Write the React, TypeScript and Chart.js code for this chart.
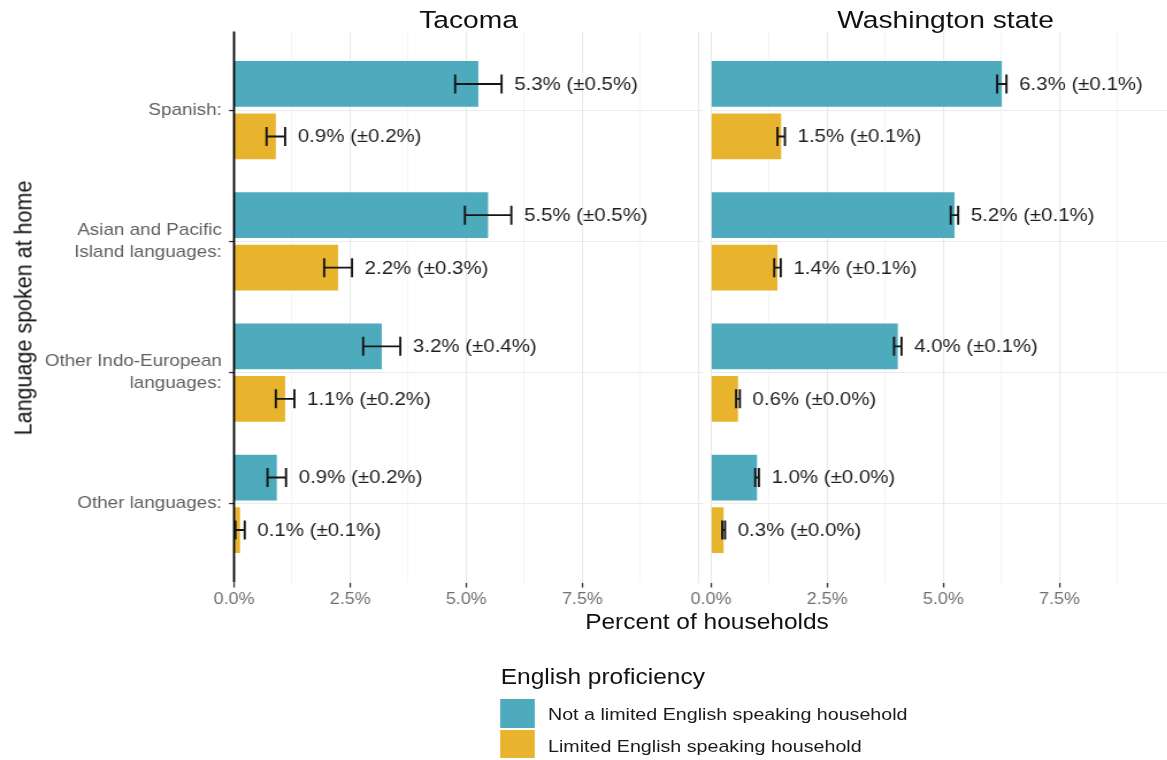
import React, { useEffect, useRef } from "react";
import { Chart, registerables } from "chart.js";

Chart.register(...registerables);

// ---------------- data ----------------
const categories: string[][] = [
  ["Spanish:"],
  ["Asian and Pacific", "Island languages:"],
  ["Other Indo-European", "languages:"],
  ["Other languages:"],
];
const seriesNames = [
  "Not a limited English speaking household",
  "Limited English speaking household",
];
const panelTitles = ["Tacoma", "Washington state"];

const tacomaNotLimited = [5.26, 5.47, 3.18, 0.92];
const tacomaNotLimitedErr = [0.5, 0.5, 0.4, 0.2];
const tacomaLimited = [0.9, 2.24, 1.1, 0.13];
const tacomaLimitedErr = [0.2, 0.3, 0.2, 0.1];

const waNotLimited = [6.26, 5.24, 4.02, 0.99];
const waNotLimitedErr = [0.1, 0.08, 0.08, 0.04];
const waLimited = [1.51, 1.43, 0.58, 0.27];
const waLimitedErr = [0.08, 0.07, 0.04, 0.03];

const xGridValues = [0, 1.25, 2.5, 3.75, 5, 6.25, 7.5, 8.75, 10];
const xLabelValues = [0, 2.5, 5, 7.5];

const yAxisTitle = "Language spoken at home";
const xAxisTitle = "Percent of households";
const legendTitle = "English proficiency";

const colors = ["#4eaabd", "#e9b42d"];

// ---------------- layout (internal coords, stretched by S) ----------------
const S = 1.15;
const FONT = '"Liberation Sans", Arial, Helvetica, sans-serif';
const CANVAS_H = 615;
const PANEL_TOP = 31.5;
const PANEL_BOTTOM = 582.5;
const LEFT_W = 612;
const LEFT_AXIS_W = 203.5;
const LEFT_PANEL_RIGHT = 611.3;
const RIGHT_CANVAS_LEFT = 588;
const RIGHT_W = 427;
const RIGHT_AXIS_W = 30.3;
const PX_PER_UNIT = 40.39;

const isMajor = (v: number) =>
  xLabelValues.some((m) => Math.abs(m - v) < 1e-6) || Math.abs(v - 10) < 1e-6;
const isLabeled = (v: number) => xLabelValues.some((m) => Math.abs(m - v) < 1e-6);

function makeErrorPlugin(errs: number[][], drawAxisLine: boolean) {
  return {
    id: "errorBarsAndLabels",
    afterDatasetsDraw(chart: any) {
      const ctx = chart.ctx as CanvasRenderingContext2D;
      const xs = chart.scales.x;
      const area = chart.chartArea;
      ctx.save();
      if (drawAxisLine) {
        ctx.strokeStyle = "#000";
        ctx.lineWidth = 1.8;
        ctx.beginPath();
        ctx.moveTo(area.left, area.top);
        ctx.lineTo(area.left, area.bottom);
        ctx.stroke();
      }
      chart.data.datasets.forEach((ds: any, di: number) => {
        const meta = chart.getDatasetMeta(di);
        meta.data.forEach((el: any, i: number) => {
          const v = ds.data[i].x as number;
          const e = errs[di][i];
          const x0 = xs.getPixelForValue(v - e);
          const x1 = xs.getPixelForValue(v + e);
          const y = el.y;
          const h = 19;
          ctx.strokeStyle = "#151515";
          ctx.lineWidth = 1.9;
          ctx.beginPath();
          ctx.moveTo(x0, y);
          ctx.lineTo(x1, y);
          ctx.moveTo(x0, y - h / 2);
          ctx.lineTo(x0, y + h / 2);
          ctx.moveTo(x1, y - h / 2);
          ctx.lineTo(x1, y + h / 2);
          ctx.stroke();
          ctx.fillStyle = "#1e1e1e";
          ctx.font = `17.8px ${FONT}`;
          ctx.textAlign = "left";
          ctx.textBaseline = "middle";
          ctx.fillText(`${v.toFixed(1)}% (±${e.toFixed(1)}%)`, x1 + 11, y + 1);
        });
      });
      ctx.restore();
    },
  };
}

function makeConfig(
  notLim: number[],
  notErr: number[],
  lim: number[],
  limErr: number[],
  isLeft: boolean,
  canvasW: number
): any {
  const axisW = isLeft ? LEFT_AXIS_W : RIGHT_AXIS_W;
  const panelRight = isLeft ? LEFT_PANEL_RIGHT : canvasW;
  const xMax = (panelRight - axisW) / PX_PER_UNIT;
  return {
    type: "bar",
    data: {
      datasets: [
        {
          label: seriesNames[0],
          data: notLim.map((v, i) => ({ x: v, y: i + 1 })),
          backgroundColor: colors[0],
          borderWidth: 0,
        },
        {
          label: seriesNames[1],
          data: lim.map((v, i) => ({ x: v, y: i + 1 })),
          backgroundColor: colors[1],
          borderWidth: 0,
        },
      ],
    },
    options: {
      indexAxis: "y",
      responsive: false,
      maintainAspectRatio: false,
      animation: false,
      events: [],
      layout: {
        padding: { left: 0, right: canvasW - panelRight, top: PANEL_TOP, bottom: 0 },
      },
      datasets: {
        bar: { categoryPercentage: 0.8, barPercentage: 0.872 },
      },
      plugins: {
        legend: { display: false },
        tooltip: { enabled: false },
        title: { display: false },
      },
      scales: {
        y: {
          type: "linear",
          min: 0.4,
          max: 4.6,
          reverse: true,
          offset: false,
          afterBuildTicks: (ax: any) => {
            ax.ticks = categories.map((_, i) => ({ value: i + 1 }));
          },
          afterFit: (ax: any) => {
            ax.width = axisW;
          },
          ticks: {
            display: isLeft,
            autoSkip: false,
            padding: 6.2,
            color: "#606060",
            font: { family: FONT, size: 16.4, lineHeight: 1.34 },
            callback: (v: number) => categories[Math.round(v) - 1],
          },
          grid: {
            offset: false,
            color: "#ebebeb",
            lineWidth: 1.1,
            drawTicks: isLeft,
            tickLength: 4.4,
            tickColor: "#333",
            tickWidth: 1.3,
          },
          border: { display: false },
        },
        x: {
          type: "linear",
          min: 0,
          max: xMax,
          offset: false,
          afterBuildTicks: (ax: any) => {
            ax.ticks = xGridValues.filter((v) => v <= xMax + 1e-9).map((v) => ({ value: v }));
          },
          afterFit: (ax: any) => {
            ax.height = CANVAS_H - PANEL_BOTTOM;
          },
          ticks: {
            autoSkip: false,
            maxRotation: 0,
            minRotation: 0,
            padding: 2.5,
            color: "#707070",
            font: { family: FONT, size: 15.6 },
            callback: (v: number) => (isLabeled(v) ? v.toFixed(1) + "%" : ""),
          },
          grid: {
            offset: false,
            color: (c: any) => (c.tick && isMajor(c.tick.value) ? "#e8e8e8" : "#f3f3f3"),
            lineWidth: (c: any) => (c.tick && isMajor(c.tick.value) ? 1.1 : 0.9),
            tickColor: (c: any) =>
              c.tick && isLabeled(c.tick.value) ? "#333" : "rgba(0,0,0,0)",
            tickLength: 5,
            tickWidth: 1.3,
          },
          border: { display: false },
        },
      },
    },
    plugins: [makeErrorPlugin([notErr, limErr], isLeft)],
  };
}

export default function App() {
  const leftRef = useRef<HTMLCanvasElement>(null);
  const rightRef = useRef<HTMLCanvasElement>(null);

  useEffect(() => {
    Chart.defaults.font.family = FONT;
    const c1 = new Chart(
      leftRef.current as HTMLCanvasElement,
      makeConfig(tacomaNotLimited, tacomaNotLimitedErr, tacomaLimited, tacomaLimitedErr, true, LEFT_W)
    );
    const c2 = new Chart(
      rightRef.current as HTMLCanvasElement,
      makeConfig(waNotLimited, waNotLimitedErr, waLimited, waLimitedErr, false, RIGHT_W)
    );
    return () => {
      c1.destroy();
      c2.destroy();
    };
  }, []);

  const innerW = 1167 / S;
  const panelW = LEFT_PANEL_RIGHT - LEFT_AXIS_W;
  const rightPanelLeft = RIGHT_CANVAS_LEFT + RIGHT_AXIS_W;
  const xTitleCenter = (LEFT_AXIS_W + rightPanelLeft + panelW) / 2;

  const abs = (s: React.CSSProperties): React.CSSProperties => ({
    position: "absolute",
    whiteSpace: "nowrap",
    ...s,
  });

  return (
    <div
      style={{
        position: "fixed",
        left: 0,
        top: 0,
        width: 1167,
        height: 760,
        overflow: "hidden",
        background: "#ffffff",
      }}
    >
      <div
        style={{
          position: "absolute",
          left: 0,
          top: 0,
          width: innerW,
          height: 760,
          transform: `scaleX(${S})`,
          transformOrigin: "0 0",
          fontFamily: FONT,
        }}
      >
        <canvas
          ref={leftRef}
          width={LEFT_W}
          height={CANVAS_H}
          style={{ position: "absolute", left: 0, top: 0, width: LEFT_W, height: CANVAS_H }}
        />
        <canvas
          ref={rightRef}
          width={RIGHT_W}
          height={CANVAS_H}
          style={{
            position: "absolute",
            left: RIGHT_CANVAS_LEFT,
            top: 0,
            width: RIGHT_W,
            height: CANVAS_H,
          }}
        />
        <div
          style={abs({
            left: LEFT_AXIS_W,
            width: panelW,
            top: 7.7,
            textAlign: "center",
            fontSize: 24.5,
            lineHeight: "24.5px",
            color: "#111",
          })}
        >
          {panelTitles[0]}
        </div>
        <div
          style={abs({
            left: rightPanelLeft,
            width: panelW,
            top: 7.7,
            textAlign: "center",
            fontSize: 24.5,
            lineHeight: "24.5px",
            color: "#111",
          })}
        >
          {panelTitles[1]}
        </div>
        <div
          style={abs({
            left: xTitleCenter - 300,
            width: 600,
            top: 612.1,
            textAlign: "center",
            fontSize: 21.3,
            lineHeight: "21.3px",
            color: "#111",
          })}
        >
          {xAxisTitle}
        </div>
        <div
          style={abs({
            left: 21,
            top: 307.5,
            transform: "translate(-50%, -50%) rotate(-90deg)",
            fontSize: 21.5,
            lineHeight: "21.5px",
            color: "#111",
          })}
        >
          {yAxisTitle}
        </div>
        <div
          style={abs({
            left: 435.4,
            top: 667.1,
            fontSize: 21.3,
            lineHeight: "21.3px",
            color: "#111",
          })}
        >
          {legendTitle}
        </div>
        <div
          style={abs({ left: 435.4, top: 699.3, width: 29.2, height: 28.4, background: colors[0] })}
        />
        <div
          style={abs({ left: 435.4, top: 730.3, width: 29.2, height: 28.2, background: colors[1] })}
        />
        <div
          style={abs({
            left: 476.5,
            top: 706.3,
            fontSize: 17.1,
            lineHeight: "17.1px",
            color: "#1a1a1a",
          })}
        >
          {seriesNames[0]}
        </div>
        <div
          style={abs({
            left: 476.5,
            top: 737.9,
            fontSize: 17.1,
            lineHeight: "17.1px",
            color: "#1a1a1a",
          })}
        >
          {seriesNames[1]}
        </div>
      </div>
    </div>
  );
}
